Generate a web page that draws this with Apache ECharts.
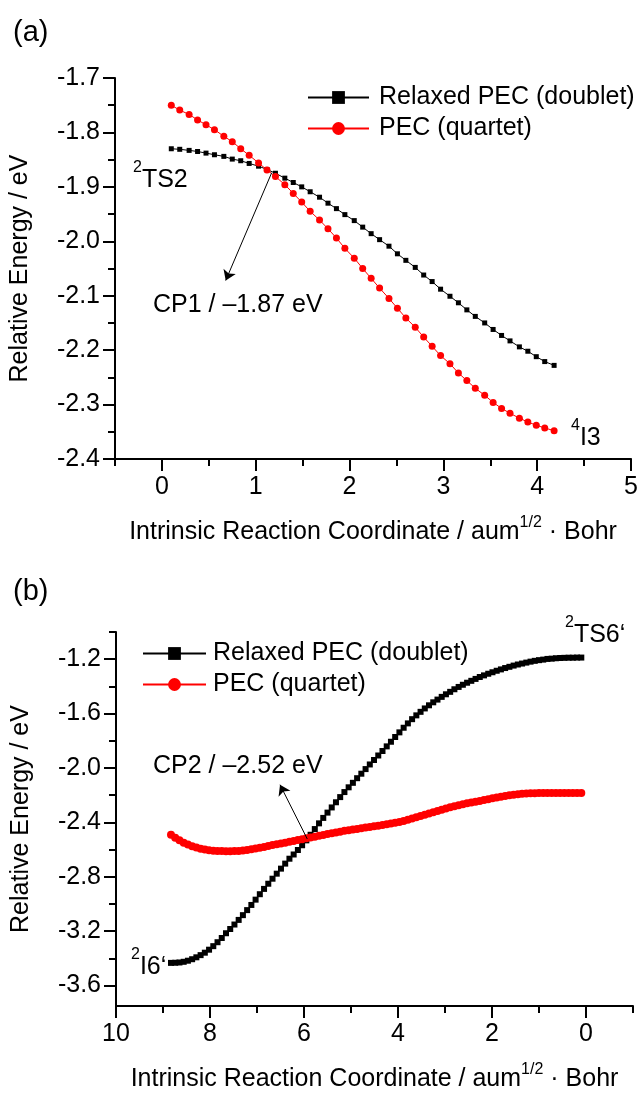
<!DOCTYPE html>
<html>
<head>
<meta charset="utf-8">
<script src="https://cdn.jsdelivr.net/npm/echarts@6/dist/echarts.min.js"></script>
<style>
  html, body { margin: 0; padding: 0; background: #fff; }
  #main { width: 641px; height: 1097px; }
</style>
</head>
<body>
<div id="main"></div>
<script>
// ---- panel (a) ----
var ircA = [0.10, 0.19, 0.29, 0.38, 0.47, 0.56, 0.66, 0.75, 0.84, 0.93,
  1.03, 1.12, 1.21, 1.31, 1.40, 1.49, 1.58, 1.68, 1.77, 1.86,
  1.95, 2.05, 2.14, 2.23, 2.32, 2.42, 2.51, 2.60, 2.70, 2.79,
  2.88, 2.97, 3.07, 3.16, 3.25, 3.34, 3.44, 3.53, 3.62, 3.71,
  3.81, 3.90, 3.99, 4.08, 4.18];
var doubletA = [-1.830, -1.831, -1.833, -1.835, -1.838, -1.841, -1.844, -1.849, -1.852, -1.857,
  -1.862, -1.868, -1.875, -1.884, -1.892, -1.900, -1.909, -1.919, -1.930, -1.940,
  -1.951, -1.962, -1.974, -1.986, -1.997, -2.009, -2.023, -2.035, -2.048, -2.062,
  -2.074, -2.088, -2.101, -2.113, -2.126, -2.138, -2.150, -2.162, -2.173, -2.183,
  -2.194, -2.202, -2.212, -2.221, -2.228];
var quartetA = [-1.750, -1.759, -1.767, -1.777, -1.786, -1.795, -1.807, -1.817, -1.830, -1.842,
  -1.856, -1.869, -1.881, -1.896, -1.912, -1.928, -1.945, -1.961, -1.977, -1.994,
  -2.013, -2.031, -2.050, -2.068, -2.086, -2.105, -2.123, -2.141, -2.158, -2.176,
  -2.193, -2.210, -2.225, -2.242, -2.256, -2.270, -2.283, -2.296, -2.307, -2.316,
  -2.325, -2.332, -2.338, -2.343, -2.348];

// ---- panel (b) ----
var ircB = [0.10, 0.19, 0.28, 0.37, 0.46, 0.55, 0.64, 0.73, 0.82, 0.91,
  1.00, 1.09, 1.18, 1.27, 1.36, 1.45, 1.54, 1.63, 1.72, 1.81,
  1.90, 1.99, 2.08, 2.17, 2.26, 2.35, 2.44, 2.53, 2.62, 2.71,
  2.80, 2.89, 2.98, 3.07, 3.16, 3.25, 3.34, 3.43, 3.52, 3.61,
  3.70, 3.79, 3.88, 3.97, 4.06, 4.15, 4.24, 4.33, 4.42, 4.51,
  4.60, 4.69, 4.78, 4.87, 4.96, 5.05, 5.14, 5.23, 5.32, 5.41,
  5.50, 5.59, 5.68, 5.77, 5.86, 5.95, 6.04, 6.13, 6.22, 6.31,
  6.40, 6.49, 6.58, 6.67, 6.76, 6.85, 6.94, 7.03, 7.12, 7.21,
  7.30, 7.39, 7.48, 7.57, 7.66, 7.75, 7.84, 7.93, 8.02, 8.11,
  8.20, 8.29, 8.38, 8.47, 8.56, 8.65, 8.74, 8.83];
var doubletB = [-1.188, -1.188, -1.189, -1.189, -1.190, -1.191, -1.193, -1.196, -1.198, -1.203,
  -1.207, -1.212, -1.218, -1.225, -1.232, -1.239, -1.247, -1.256, -1.265, -1.275,
  -1.285, -1.296, -1.307, -1.319, -1.331, -1.345, -1.359, -1.373, -1.388, -1.404,
  -1.421, -1.440, -1.458, -1.477, -1.497, -1.517, -1.539, -1.562, -1.587, -1.613,
  -1.641, -1.672, -1.704, -1.738, -1.772, -1.807, -1.841, -1.875, -1.908, -1.941,
  -1.974, -2.008, -2.042, -2.075, -2.109, -2.142, -2.177, -2.214, -2.252, -2.290,
  -2.328, -2.367, -2.407, -2.449, -2.491, -2.532, -2.568, -2.603, -2.636, -2.667,
  -2.703, -2.740, -2.777, -2.814, -2.851, -2.889, -2.928, -2.968, -3.007, -3.045,
  -3.082, -3.117, -3.151, -3.184, -3.215, -3.250, -3.281, -3.310, -3.336, -3.358,
  -3.376, -3.392, -3.406, -3.417, -3.425, -3.430, -3.432, -3.433];
var quartetB = [-2.183, -2.183, -2.183, -2.183, -2.183, -2.183, -2.183, -2.183, -2.183, -2.184,
  -2.184, -2.185, -2.186, -2.188, -2.190, -2.193, -2.196, -2.200, -2.205, -2.211,
  -2.217, -2.223, -2.229, -2.235, -2.242, -2.248, -2.254, -2.260, -2.267, -2.274,
  -2.281, -2.289, -2.298, -2.307, -2.316, -2.325, -2.334, -2.344, -2.353, -2.362,
  -2.372, -2.381, -2.389, -2.397, -2.403, -2.409, -2.414, -2.419, -2.424, -2.429,
  -2.434, -2.438, -2.443, -2.448, -2.452, -2.457, -2.462, -2.468, -2.474, -2.480,
  -2.486, -2.492, -2.498, -2.505, -2.511, -2.517, -2.523, -2.529, -2.536, -2.543,
  -2.549, -2.555, -2.561, -2.567, -2.573, -2.580, -2.586, -2.592, -2.598, -2.603,
  -2.607, -2.610, -2.611, -2.612, -2.612, -2.611, -2.610, -2.608, -2.605, -2.600,
  -2.594, -2.585, -2.575, -2.563, -2.549, -2.532, -2.512, -2.490];

// tick positions
var xTicksA = [0, 1, 2, 3, 4, 5];
var xMinorA = [-0.5, 0.5, 1.5, 2.5, 3.5, 4.5];
var xTicksB = [0, 2, 4, 6, 8, 10];
var xMinorB = [-1, 1, 3, 5, 7, 9];
var yTicksB = [-3.6, -3.2, -2.8, -2.4, -2.0, -1.6, -1.2];
var yMinorB = [-3.4, -3.0, -2.6, -2.2, -1.8, -1.4, -1.0];

// crossing point arrows [from, to]
var cp1Arrow = [[1.17, -1.874], [0.68, -2.072]];
var cp2Arrow = [[5.93, -2.522], [6.51, -2.123]];

var names = ['Relaxed PEC (doublet)', 'PEC (quartet)'];
var FONT = '"Liberation Sans", Arial, sans-serif';
var xName = 'Intrinsic Reaction Coordinate / aum{s|1/2} · Bohr';

function pairs(xs, ys) {
  return xs.map(function (x, i) { return [x, ys[i]]; });
}

var blackLine = { color: '#000', width: 2 };
var nameStyle = {
  fontSize: 25, color: '#000', fontFamily: FONT, lineHeight: 34,
  rich: { s: { fontSize: 16, lineHeight: 16, verticalAlign: 'top', fontFamily: FONT, color: '#000' } }
};
var labelStyle = { fontSize: 25, color: '#000', fontFamily: FONT };

function arrowLine(pts) {
  return {
    silent: true,
    symbol: ['none', 'arrow'],
    symbolSize: 10,
    label: { show: false },
    lineStyle: { color: '#000', width: 1, type: 'solid' },
    data: [[{ coord: pts[0] }, { coord: pts[1] }]]
  };
}

function supText(x, y, sup, main, size) {
  return {
    type: 'text', x: x, y: y,
    style: {
      text: '{s|' + sup + '}{n|' + main + '}',
      verticalAlign: 'middle', align: 'left',
      rich: {
        s: { fontSize: 16, lineHeight: 16, verticalAlign: 'top', fontFamily: FONT, fill: '#000' },
        n: { fontSize: size, lineHeight: 40, fontFamily: FONT, fill: '#000' }
      }
    }
  };
}

function plainText(x, y, txt, size) {
  return {
    type: 'text', x: x, y: y,
    style: { text: txt, fontSize: size, fontFamily: FONT, fill: '#000', verticalAlign: 'middle', align: 'left' }
  };
}

var chart = echarts.init(document.getElementById('main'));
var option = {
  animation: false,
  backgroundColor: '#fff',
  grid: [
    { left: 115, top: 78, width: 518, height: 381 },
    { left: 116, top: 632, width: 517, height: 380 }
  ],
  legend: [
    {
      data: names, orient: 'vertical', left: 302, top: 80,
      itemWidth: 61, itemHeight: 16, itemGap: 6,
      textStyle: { fontSize: 25, color: '#000', fontFamily: FONT, padding: [0, 0, 0, 5] }
    },
    {
      data: names, orient: 'vertical', left: 137, top: 636,
      itemWidth: 63, itemHeight: 16, itemGap: 6,
      textStyle: { fontSize: 25, color: '#000', fontFamily: FONT, padding: [0, 0, 0, 2] }
    }
  ],
  xAxis: [
    {
      gridIndex: 0, type: 'value', min: -0.5, max: 5, position: 'bottom',
      axisLine: { onZero: false, lineStyle: blackLine },
      axisTick: { customValues: xTicksA, length: 12, lineStyle: blackLine },
      axisLabel: Object.assign({ customValues: xTicksA, margin: 16 }, labelStyle),
      splitLine: { show: false },
      name: xName, nameLocation: 'middle', nameGap: 56, nameTextStyle: nameStyle
    },
    {
      gridIndex: 0, type: 'value', min: -0.5, max: 5, position: 'bottom',
      axisLine: { show: false, onZero: false },
      axisTick: { customValues: xMinorA, length: 7, lineStyle: blackLine },
      axisLabel: { show: false },
      splitLine: { show: false }
    },
    {
      gridIndex: 1, type: 'value', min: -1, max: 10, inverse: true, position: 'bottom',
      axisLine: { onZero: false, lineStyle: blackLine },
      axisTick: { customValues: xTicksB, length: 12, lineStyle: blackLine },
      axisLabel: Object.assign({ customValues: xTicksB, margin: 16 }, labelStyle),
      splitLine: { show: false },
      name: xName, nameLocation: 'middle', nameGap: 56, nameTextStyle: nameStyle
    },
    {
      gridIndex: 1, type: 'value', min: -1, max: 10, inverse: true, position: 'bottom',
      axisLine: { show: false, onZero: false },
      axisTick: { customValues: xMinorB, length: 7, lineStyle: blackLine },
      axisLabel: { show: false },
      splitLine: { show: false }
    }
  ],
  yAxis: [
    {
      gridIndex: 0, type: 'value', min: -2.4, max: -1.7, interval: 0.1, position: 'left',
      axisLine: { show: true, onZero: false, lineStyle: blackLine },
      axisTick: { show: true, length: 12, lineStyle: blackLine },
      minorTick: { show: true, splitNumber: 2, length: 7, lineStyle: blackLine },
      axisLabel: Object.assign({ margin: 15, formatter: function (v) { return v.toFixed(1); } }, labelStyle),
      splitLine: { show: false },
      name: 'Relative Energy / eV', nameLocation: 'middle', nameGap: 82,
      nameTextStyle: { fontSize: 25, color: '#000', fontFamily: FONT }
    },
    {
      gridIndex: 1, type: 'value', min: -3.75, max: -1.0, position: 'left',
      axisLine: { show: true, onZero: false, lineStyle: blackLine },
      axisTick: { show: true, customValues: yTicksB, length: 12, lineStyle: blackLine },
      axisLabel: Object.assign({ customValues: yTicksB, margin: 15, formatter: function (v) { return v.toFixed(1); } }, labelStyle),
      splitLine: { show: false },
      name: 'Relative Energy / eV', nameLocation: 'middle', nameGap: 82,
      nameTextStyle: { fontSize: 25, color: '#000', fontFamily: FONT }
    },
    {
      gridIndex: 1, type: 'value', min: -3.75, max: -1.0, position: 'left',
      axisLine: { show: false, onZero: false },
      axisTick: { show: true, customValues: yMinorB, length: 7, lineStyle: blackLine },
      axisLabel: { show: false },
      splitLine: { show: false }
    }
  ],
  series: [
    {
      name: names[0], type: 'line', xAxisIndex: 0, yAxisIndex: 0,
      data: pairs(ircA, doubletA), symbol: 'rect', symbolSize: 5, showAllSymbol: true,
      itemStyle: { color: '#000' }, lineStyle: { color: '#000', width: 1 },
      markLine: arrowLine(cp1Arrow)
    },
    {
      name: names[1], type: 'line', xAxisIndex: 0, yAxisIndex: 0,
      data: pairs(ircA, quartetA), symbol: 'circle', symbolSize: 7, showAllSymbol: true,
      itemStyle: { color: '#ff0000' }, lineStyle: { color: '#ff0000', width: 1 }
    },
    {
      name: names[0], type: 'line', xAxisIndex: 2, yAxisIndex: 1,
      data: pairs(ircB, doubletB), symbol: 'rect', symbolSize: 6, showAllSymbol: true,
      itemStyle: { color: '#000' }, lineStyle: { color: '#000', width: 1 },
      markLine: arrowLine(cp2Arrow)
    },
    {
      name: names[1], type: 'line', xAxisIndex: 2, yAxisIndex: 1,
      data: pairs(ircB, quartetB), symbol: 'circle', symbolSize: 8, showAllSymbol: true,
      itemStyle: { color: '#ff0000' }, lineStyle: { color: '#ff0000', width: 1 }
    }
  ],
  graphic: [
    plainText(13, 33, '(a)', 29),
    plainText(13, 592, '(b)', 29),
    supText(133, 180, '2', 'TS2', 25),
    plainText(153, 305, 'CP1 / \u20131.87 eV', 25),
    supText(571, 438, '4', 'I3', 25),
    supText(565, 635, '2', 'TS6\u2018', 25),
    plainText(153, 766, 'CP2 / \u20132.52 eV', 25),
    supText(131, 967, '2', 'I6\u2018', 25)
  ]
};
chart.setOption(option);
</script>
</body>
</html>
